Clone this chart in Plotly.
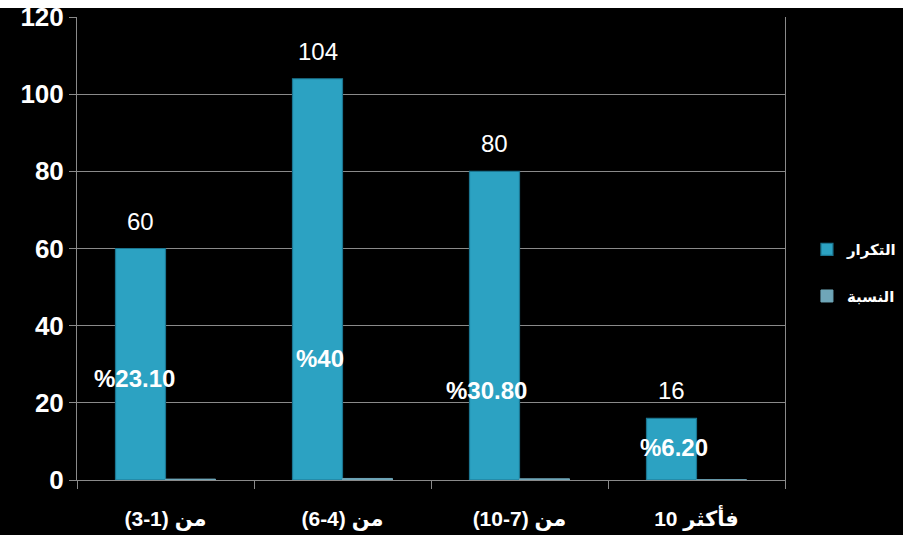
import plotly.graph_objects as go

# Category labels (written so they display in the intended visual order)
categories = ["(3-1) من", "(6-4) من", "(10-7) من", "10 فأكثر"]
freq = [60, 104, 80, 16]            # التكرار
pct = [23.1, 40, 30.8, 6.2]         # النسبة (%)
y_ticks = [0, 20, 40, 60, 80, 100, 120]

# vertical placement of the percentage labels (axis units)
pct_label_y = [26.4, 31.6, 23.3, 8.3]
pct_label_dx = [-31, -23, -33, -23]

FONT = "Liberation Sans, Arial, DejaVu Sans, sans-serif"
GRID = "#8a8a8a"


def pct_text(v):
    return f"%{v:g}" if float(v).is_integer() else f"%{v:.2f}"


fig = go.Figure()
fig.add_trace(go.Bar(
    name="التكرار", x=categories, y=freq,
    marker=dict(color="#2ca2c2", line=dict(color="#1b7590", width=1.2)),
    legendgroup="a",
))
fig.add_trace(go.Bar(
    name="النسبة", x=categories, y=[v / 100 for v in pct],
    marker=dict(color="#6fa6b8", line=dict(color="#6fa6b8", width=1)),
    legendgroup="b",
))

annotations = []
for c, v in zip(categories, freq):
    annotations.append(dict(
        x=c, y=v, xref="x", yref="y", text=str(v), showarrow=False,
        yanchor="bottom", yshift=12, xshift=-25,
        font=dict(family=FONT, size=24, color="white"),
    ))
for c, v, ly, dx in zip(categories, pct, pct_label_y, pct_label_dx):
    annotations.append(dict(
        x=c, y=ly, xref="x", yref="y", text=f"<b>{pct_text(v)}</b>", showarrow=False,
        xshift=dx, font=dict(family=FONT, size=24, color="white"),
    ))

fig.update_layout(
    width=903, height=539,
    margin=dict(l=77, r=118, t=17, b=59, autoexpand=False),
    paper_bgcolor="white",
    plot_bgcolor="#404040",
    barmode="group",
    bargap=0.435,
    bargroupgap=0,
    showlegend=True,
    legend=dict(
        x=1.031, y=0.533, xanchor="left", yanchor="top",
        font=dict(family=FONT, size=15, color="white", weight="bold"),
        bgcolor="rgba(0,0,0,0)", traceorder="grouped", tracegroupgap=24,
    ),
    annotations=annotations,
    shapes=[dict(
        type="rect", xref="paper", yref="paper", layer="below",
        x0=-0.12, x1=1.18, y0=-0.1188, y1=1.0194,
        fillcolor="black", line=dict(width=0),
    )],
    xaxis=dict(
        type="category",
        showline=True, linecolor=GRID, linewidth=1,
        ticks="outside", tickson="boundaries", ticklen=8, tickcolor=GRID,
        ticklabelstandoff=20,
        tickfont=dict(family=FONT, size=21, color="white", weight="bold"),
        showgrid=False,
    ),
    yaxis=dict(
        range=[0, 120], tickvals=y_ticks,
        showline=True, linecolor=GRID, linewidth=1, mirror=True,
        ticks="outside", ticklen=7, tickcolor=GRID,
        showgrid=True, gridcolor=GRID, gridwidth=1,
        tickfont=dict(family=FONT, size=26, color="white", weight="bold"),
        zeroline=False,
    ),
)

fig.write_html("out.html")
